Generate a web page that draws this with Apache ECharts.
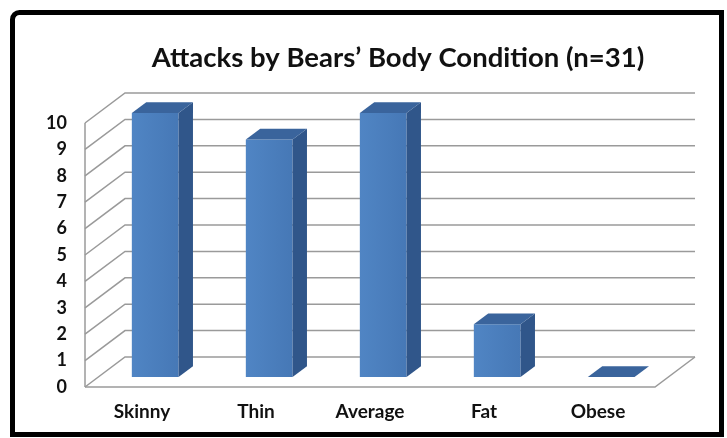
<!DOCTYPE html>
<html>
<head>
<meta charset="utf-8">
<script src="https://cdn.jsdelivr.net/npm/echarts@6/dist/echarts.min.js"></script>
<style>
  html, body { margin: 0; padding: 0; background: #fff; }
  #chart { width: 727px; height: 438px; }
</style>
</head>
<body>
<div id="chart"></div>
<script>
// Attacks by bears' body condition
const categories = ['Skinny', 'Thin', 'Average', 'Fat', 'Obese'];
const attacks = [10, 9, 10, 2, 0];
const yTicks = [0, 1, 2, 3, 4, 5, 6, 7, 8, 9, 10];
const titleText = 'Attacks by Bears\u2019 Body Condition (n=31)';

// Oblique projection used for the pseudo-3D walls and columns
const DEPTH_X = 40, DEPTH_Y = 30;
const BAR_FRONT = 0.33;   // depth fraction where the column front face sits
const BAR_DEPTH = 0.36;   // column depth as a fraction of the floor depth
const BAR_WIDTH = 0.41;   // column width as a fraction of the category band

const LINE = '#9a9a9a';
const FONT = 'Lato, "Open Sans", sans-serif';

const chart = echarts.init(document.getElementById('chart'), null, { renderer: 'canvas' });

function renderFrame(params, api) {
  const v = api.value(0);
  const cs = params.coordSys;
  const x0 = cs.x, x1 = cs.x + cs.width;
  const y = api.coord([0, v])[1];
  const children = [{
    type: 'polyline',
    shape: { points: [[x0, y], [x0 + DEPTH_X, y - DEPTH_Y], [x1 + DEPTH_X, y - DEPTH_Y]] },
    style: { stroke: LINE, lineWidth: 1.5, fill: null }
  }];
  if (v === yTicks[0]) {
    const yTop = api.coord([0, yTicks[yTicks.length - 1]])[1];
    // floor front and right edges
    children.push({
      type: 'polyline',
      shape: { points: [[x0, y], [x1, y], [x1 + DEPTH_X, y - DEPTH_Y]] },
      style: { stroke: LINE, lineWidth: 1.5, fill: null }
    });
    // left wall front edge
    children.push({
      type: 'line',
      shape: { x1: x0, y1: y, x2: x0, y2: yTop },
      style: { stroke: LINE, lineWidth: 1.5 }
    });
  }
  return { type: 'group', children: children };
}

function renderColumn(params, api) {
  const i = api.value(0);
  const v = api.value(1);
  const base = api.coord([i, 0]);
  const top = api.coord([i, v]);
  const band = api.size([1, 0])[0];
  const w = band * BAR_WIDTH;
  const ox = DEPTH_X * BAR_FRONT, oy = DEPTH_Y * BAR_FRONT;
  const dx = DEPTH_X * BAR_DEPTH, dy = DEPTH_Y * BAR_DEPTH;
  const l = base[0] + ox - w / 2, r = base[0] + ox + w / 2;
  const yb = base[1] - oy, yt = top[1] - oy;
  const children = [];
  if (yb - yt > 0.5) {
    children.push({
      type: 'polygon',
      shape: { points: [[l, yb], [r, yb], [r, yt], [l, yt]] },
      style: {
        fill: new echarts.graphic.LinearGradient(0, 0, 1, 0, [
          { offset: 0, color: '#5085c4' },
          { offset: 1, color: '#4678b6' }
        ])
      }
    });
    children.push({
      type: 'polygon',
      shape: { points: [[r, yb], [r, yt], [r + dx, yt - dy], [r + dx, yb - dy]] },
      style: { fill: '#30568a' }
    });
  }
  children.push({
    type: 'polygon',
    shape: { points: [[l, yt], [r, yt], [r + dx, yt - dy], [l + dx, yt - dy]] },
    style: { fill: '#3a649c' }
  });
  return { type: 'group', children: children };
}

chart.setOption({
  backgroundColor: '#ffffff',
  animation: false,
  title: {
    text: titleText,
    left: 393,
    top: 39,
    textAlign: 'center',
    textStyle: { fontFamily: FONT, fontWeight: 'bold', fontSize: 27.5, color: '#111' }
  },
  grid: { left: 85, top: 123, width: 570, height: 264 },
  xAxis: {
    type: 'category',
    data: categories,
    axisLine: { show: false },
    axisTick: { show: false },
    splitLine: { show: false },
    axisLabel: { margin: 15, fontFamily: FONT, fontWeight: 'bold', fontSize: 19, color: '#111' }
  },
  yAxis: {
    type: 'value',
    min: 0,
    max: 10,
    interval: 1,
    axisLine: { show: false },
    axisTick: { show: false },
    splitLine: { show: false },
    axisLabel: { margin: 18, fontFamily: FONT, fontWeight: 'bold', fontSize: 18, color: '#111' }
  },
  series: [
    {
      type: 'custom',
      name: 'frame',
      renderItem: renderFrame,
      data: yTicks.map(t => [t]),
      encode: { y: 0 },
      silent: true,
      z: 1
    },
    {
      type: 'custom',
      name: 'Attacks',
      renderItem: renderColumn,
      data: attacks.map((v, i) => [i, v]),
      encode: { x: 0, y: 1 },
      z: 2
    }
  ],
  graphic: [{
    type: 'rect',
    shape: { x: 12.5, y: 12.5, width: 709, height: 422, r: [7, 0, 0, 0] },
    style: { fill: null, stroke: '#000', lineWidth: 5 },
    z: 10
  }]
});
</script>
</body>
</html>
